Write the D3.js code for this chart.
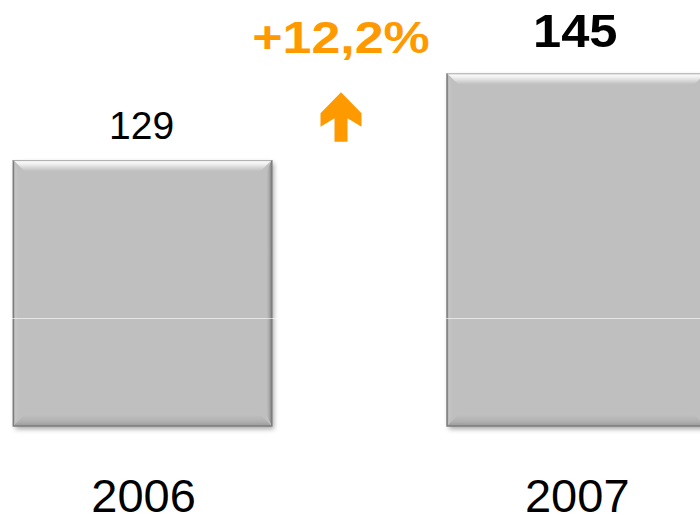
<!DOCTYPE html>
<html>
<head>
<meta charset="utf-8">
<script src="https://cdn.jsdelivr.net/npm/d3@7"></script>
<style>
  html, body { margin: 0; padding: 0; background: #ffffff; overflow: hidden; }
  svg { display: block; font-family: "Liberation Sans", Arial, Helvetica, sans-serif; }
</style>
</head>
<body>
<svg id="chart" width="700" height="516"></svg>
<script>
// Yearly totals
const years = ["2006", "2007"];
const totals = [129, 145];
const valueLabels = ["129", "145"];
const growthLabel = "+12,2%";
const gridValues = [100];

const W = 700, H = 516;
const svg = d3.select("#chart");

const x = d3.scaleBand()
  .domain(years)
  .range([-74.3, 793.1])
  .paddingInner(0.404)
  .paddingOuter(0.202);

const y = d3.scaleLinear()
  .domain([80, 145])
  .range([426, 73.3]);

const defs = svg.append("defs");

const shadow = defs.append("filter").attr("id", "barShadow")
  .attr("x", "-10%").attr("y", "-10%").attr("width", "125%").attr("height", "125%");
shadow.append("feDropShadow")
  .attr("dx", 2).attr("dy", 3).attr("stdDeviation", 2.5)
  .attr("flood-color", "#000").attr("flood-opacity", 0.35);

function grad(id, x1, y1, x2, y2, stops) {
  const g = defs.append("linearGradient").attr("id", id)
    .attr("x1", x1).attr("y1", y1).attr("x2", x2).attr("y2", y2);
  stops.forEach(s => g.append("stop").attr("offset", s[0]).attr("stop-color", s[1]).attr("stop-opacity", s[2]));
}
grad("bevTop", 0, 0, 0, 1, [[0, "#ffffff", 1], [0.35, "#f0f0f0", 1], [1, "#bfbfbf", 1]]);
grad("bevBottom", 0, 0, 0, 1, [[0, "#bfbfbf", 1], [0.6, "#b0b0b0", 1], [1, "#9a9a9a", 1]]);
grad("bevLeft", 0, 0, 1, 0, [[0, "#9c9c9c", 1], [0.4, "#c6c6c6", 1], [1, "#bfbfbf", 1]]);
grad("bevRight", 0, 0, 1, 0, [[0, "#bfbfbf", 1], [0.5, "#a8a8a8", 1], [1, "#7a7a7a", 1]]);

const bev = 11, side = 5;
const data = years.map((yr, i) => ({ year: yr, value: totals[i], label: valueLabels[i] }));

const bars = svg.append("g").selectAll("g.bar")
  .data(data).join("g").attr("class", "bar");

bars.each(function (d) {
  const g = d3.select(this);
  const x0 = x(d.year), x1 = x0 + x.bandwidth();
  const y0 = y(d.value), y1 = y(80);
  g.append("rect")
    .attr("x", x0).attr("y", y0).attr("width", x1 - x0).attr("height", y1 - y0)
    .attr("fill", "#bfbfbf").attr("filter", "url(#barShadow)");
  const poly = pts => pts.map(p => p.join(",")).join(" ");
  // left and right faces
  g.append("polygon").attr("fill", "url(#bevLeft)")
    .attr("points", poly([[x0, y0], [x0 + side, y0 + bev], [x0 + side, y1 - bev], [x0, y1]]));
  g.append("polygon").attr("fill", "url(#bevRight)")
    .attr("points", poly([[x1, y0], [x1 - side, y0 + bev], [x1 - side, y1 - bev], [x1, y1]]));
  // top and bottom faces
  g.append("polygon").attr("fill", "url(#bevTop)")
    .attr("points", poly([[x0, y0], [x1, y0], [x1 - bev, y0 + bev], [x0 + bev, y0 + bev]]));
  g.append("polygon").attr("fill", "url(#bevBottom)")
    .attr("points", poly([[x0, y1], [x1, y1], [x1 - bev, y1 - bev], [x0 + bev, y1 - bev]]));
  // outline
  g.append("path")
    .attr("d", `M${x0},${y0}V${y1}H${x1}V${y0}`)
    .attr("fill", "none").attr("stroke", "#7d7d7d").attr("stroke-width", 1.5);
  g.append("line")
    .attr("x1", x0).attr("x2", x1).attr("y1", y0 + 0.5).attr("y2", y0 + 0.5)
    .attr("stroke", "#a9a9a9").attr("stroke-width", 1);
});

// horizontal gridline drawn over the bars (white, so only visible on them)
svg.append("g").selectAll("line")
  .data(gridValues).join("line")
  .attr("x1", 0).attr("x2", W)
  .attr("y1", d => Math.round(y(d)) + 1.5).attr("y2", d => Math.round(y(d)) + 1.5)
  .attr("stroke", "#ffffff").attr("stroke-opacity", 0.6).attr("stroke-width", 1.2);

// value labels
svg.append("g").selectAll("text")
  .data(data).join("text")
  .attr("x", d => x(d.year) + x.bandwidth() / 2 - 1)
  .attr("y", (d, i) => y(d.value) - (i === 1 ? 26 : 21))
  .attr("text-anchor", "middle")
  .attr("font-size", (d, i) => i === 1 ? 46 : 39)
  .attr("font-weight", (d, i) => i === 1 ? "bold" : "normal")
  .attr("fill", "#000")
  .attr("transform", (d, i) => {
    const c = x(d.year) + x.bandwidth() / 2 - 1;
    const s = i === 1 ? 1.1 : 1;
    return `translate(${c},0) scale(${s},1) translate(${-c},0)`;
  })
  .text(d => d.label);

// category labels
svg.append("g").selectAll("text")
  .data(data).join("text")
  .attr("x", d => x(d.year) + x.bandwidth() / 2 + 1)
  .attr("y", 512)
  .attr("text-anchor", "middle")
  .attr("font-size", 47)
  .attr("fill", "#000")
  .text(d => d.year);

// growth annotation between the bars
const gapL = x(years[0]) + x.bandwidth();
const gapR = x(years[1]);
const cx = gapL + (gapR - gapL) * 0.395;
const orange = "#ff9900";

svg.append("text")
  .attr("x", cx).attr("y", 53)
  .attr("text-anchor", "middle")
  .attr("font-size", 44).attr("font-weight", "bold")
  .attr("fill", orange)
  .attr("transform", `translate(${cx},0) scale(1.18,1) translate(${-cx},0)`)
  .text(growthLabel);

const ay = 92.3;
const arrow = [
  [0, 0], [20.5, 21], [20.5, 34.5], [6.5, 26], [6.5, 49.5],
  [-6.5, 49.5], [-6.5, 26], [-20.5, 34.5], [-20.5, 21]
];
svg.append("polygon")
  .attr("points", arrow.map(p => [cx + p[0], ay + p[1]].join(",")).join(" "))
  .attr("fill", orange);
</script>
</body>
</html>
